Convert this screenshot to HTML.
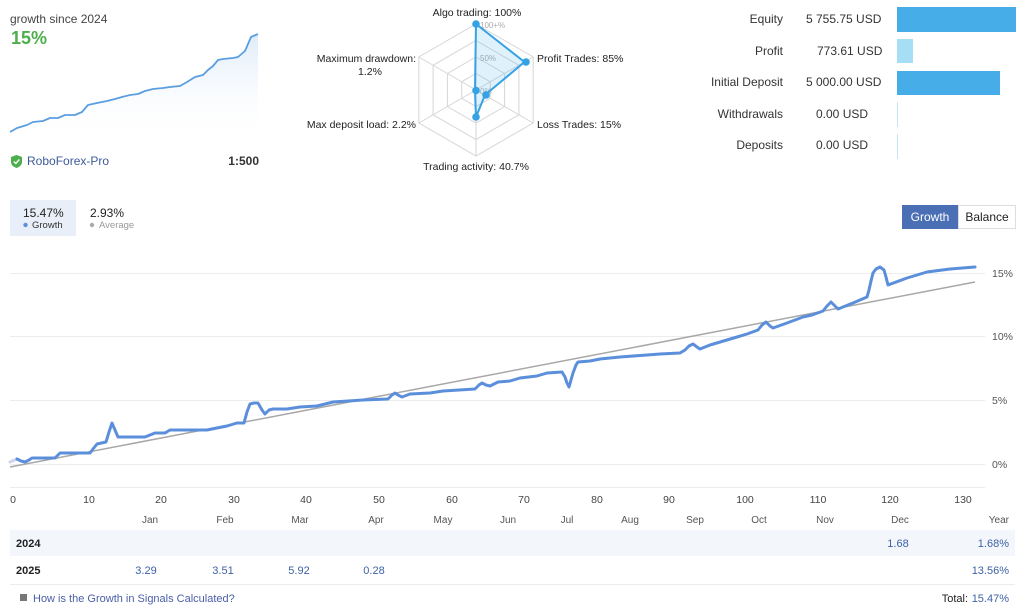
<!DOCTYPE html>
<html><head><meta charset="utf-8"><style>
html,body{margin:0;padding:0;background:#fff;}
svg{display:block;font-family:"Liberation Sans",sans-serif;}
</style></head><body>
<svg width="1024" height="614" viewBox="0 0 1024 614" xmlns="http://www.w3.org/2000/svg">
<defs>
<linearGradient id="mg" x1="0" y1="0" x2="0" y2="1">
<stop offset="0" stop-color="#dbe9f9" stop-opacity="0.9"/>
<stop offset="1" stop-color="#ffffff" stop-opacity="0"/>
</linearGradient>
</defs>
<!-- top-left -->
<text x="10" y="23" font-size="12" fill="#444">growth since 2024</text>
<text x="11" y="44" font-size="18" font-weight="bold" fill="#4cae4c">15%</text>
<path d="M10,132 L17,128 L27,125 L33,122 L43,121 L50,118 L58,118 L65,115 L75,115 L82,112 L88,105 L97,103 L107,101 L115,99 L122,97 L130,95 L138,94 L145,91 L153,89 L163,88 L170,87 L180,86 L187,82 L195,77 L203,75 L208,70 L213,66 L218,60 L223,59 L233,58 L238,57 L245,51 L251,37 L258,34 L258,140 L10,140 Z" fill="url(#mg)"/>
<polyline points="10,132 17,128 27,125 33,122 43,121 50,118 58,118 65,115 75,115 82,112 88,105 97,103 107,101 115,99 122,97 130,95 138,94 145,91 153,89 163,88 170,87 180,86 187,82 195,77 203,75 208,70 213,66 218,60 223,59 233,58 238,57 245,51 251,37 258,34" fill="none" stroke="#5b9ee0" stroke-width="1.8" stroke-linejoin="round"/>
<path d="M16.5,155 L22,157 L22,162 Q22,166 16.5,168 Q11,166 11,162 L11,157 Z" fill="#4cae4c"/>
<polyline points="13.8,161.5 15.8,163.5 19.3,159.5" fill="none" stroke="#fff" stroke-width="1.4"/>
<text x="27" y="165" font-size="12" fill="#3d5a9a">RoboForex-Pro</text>
<text x="259" y="165" font-size="12" font-weight="bold" fill="#333" text-anchor="end">1:500</text>

<!-- radar -->
<g fill="none" stroke="#d6d6d6" stroke-width="1">
<polygon points="476,24 533.2,57 533.2,123 476,156 418.8,123 418.8,57"/>
<polygon points="476,40.5 518.9,65.3 518.9,114.8 476,139.5 433.1,114.8 433.1,65.3"/>
<polygon points="476,57 504.6,73.5 504.6,106.5 476,123 447.4,106.5 447.4,73.5"/>
<polygon points="476,73.5 490.3,81.8 490.3,98.3 476,106.5 461.7,98.3 461.7,81.8"/>
<line x1="476" y1="90" x2="476" y2="24"/><line x1="476" y1="90" x2="533.2" y2="57"/>
<line x1="476" y1="90" x2="533.2" y2="123"/><line x1="476" y1="90" x2="476" y2="156"/>
<line x1="476" y1="90" x2="418.8" y2="123"/><line x1="476" y1="90" x2="418.8" y2="57"/>
</g>
<text x="480" y="28" font-size="8" fill="#aaa">100+%</text>
<text x="480" y="61" font-size="8" fill="#aaa">50%</text>
<text x="480" y="94" font-size="8" fill="#aaa">0%</text>
<polygon points="476,24 524.5,62 485,95 476,117 475,91 475,89" fill="#4bb0ea" fill-opacity="0.18" stroke="#36a2e6" stroke-width="2" stroke-linejoin="round"/>
<g fill="#36a2e6">
<circle cx="476" cy="24" r="3.8"/><circle cx="526" cy="62" r="3.8"/><circle cx="486" cy="95" r="3.8"/>
<circle cx="476" cy="117" r="3.8"/><circle cx="476" cy="90.5" r="3.8"/>
</g>
<g font-size="10.5" fill="#222">
<text x="477" y="16" text-anchor="middle">Algo trading: 100%</text>
<text x="537" y="62">Profit Trades: 85%</text>
<text x="537" y="128">Loss Trades: 15%</text>
<text x="476" y="170" text-anchor="middle">Trading activity: 40.7%</text>
<text x="416" y="128" text-anchor="end">Max deposit load: 2.2%</text>
<text x="416" y="62" text-anchor="end">Maximum drawdown:</text>
<text x="370" y="75" text-anchor="middle">1.2%</text>
</g>

<!-- top-right -->
<g font-size="12" fill="#333">
<text x="783" y="23" text-anchor="end">Equity</text>
<text x="806" y="23">5 755.75 USD</text>
<text x="783" y="55" text-anchor="end">Profit</text>
<text x="817" y="55">773.61 USD</text>
<text x="783" y="86" text-anchor="end">Initial Deposit</text>
<text x="806" y="86">5 000.00 USD</text>
<text x="783" y="118" text-anchor="end">Withdrawals</text>
<text x="816" y="118">0.00 USD</text>
<text x="783" y="149" text-anchor="end">Deposits</text>
<text x="816" y="149">0.00 USD</text>
</g>
<rect x="897" y="7" width="119" height="25" fill="#47ade9"/>
<rect x="897" y="39" width="16" height="24" fill="#a6def6"/>
<rect x="897" y="71" width="103" height="24" fill="#47ade9"/>
<rect x="897" y="102" width="1" height="25" fill="#c6e6f8"/>
<rect x="897" y="134" width="1" height="25" fill="#c6e6f8"/>

<!-- legend -->
<rect x="10" y="200" width="66" height="36" fill="#e9eff8"/>
<text x="23" y="217" font-size="12" fill="#222">15.47%</text>
<circle cx="25.5" cy="225" r="2.2" fill="#5b8fdb"/>
<text x="32" y="228" font-size="9.5" fill="#333">Growth</text>
<text x="90" y="217" font-size="12" fill="#222">2.93%</text>
<circle cx="92" cy="225" r="2.2" fill="#aaa"/>
<text x="99" y="228" font-size="9.5" fill="#999">Average</text>

<!-- buttons -->
<rect x="958.5" y="205.5" width="57" height="23" fill="#fff" stroke="#ddd"/>
<rect x="902" y="205" width="56" height="24" fill="#4a6fb5"/>
<text x="930" y="221" font-size="12" fill="#fff" text-anchor="middle">Growth</text>
<text x="987" y="221" font-size="12" fill="#222" text-anchor="middle">Balance</text>

<!-- main chart grid -->
<g stroke="#ececec" stroke-width="1">
<line x1="10" y1="273.5" x2="985" y2="273.5"/>
<line x1="10" y1="336.5" x2="985" y2="336.5"/>
<line x1="10" y1="400.5" x2="985" y2="400.5"/>
<line x1="10" y1="464.5" x2="985" y2="464.5"/>
<line x1="10" y1="487.5" x2="985" y2="487.5"/>
</g>
<g font-size="10.5" fill="#555">
<text x="992" y="277">15%</text>
<text x="992" y="340">10%</text>
<text x="992" y="404">5%</text>
<text x="992" y="468">0%</text>
</g>
<line x1="10" y1="467" x2="975" y2="282" stroke="#a8a8a8" stroke-width="1.5"/>
<line x1="10" y1="462" x2="17" y2="459" stroke="#cdd3f0" stroke-width="3" stroke-linecap="round"/>
<polyline fill="none" stroke="#5b8fdb" stroke-width="3" stroke-linejoin="round" stroke-linecap="round" points="17,459 21,461 25,462 29,460 32,458 55,458 58,455 60,453 90,453 93,449 97,444 106,442 109,432 112,423 115,430 118,437 145,437 150,435 155,433 165,433 170,430 207,430 227,426 237,423 244,423 247,412 250,404 254,403 258,403 262,410 265,414 269,410 273,409 287,409 300,407 317,406 333,402 363,400 388,399 392,395 395,393 398,395 402,397 410,394 430,393 443,391 475,389 479,385 482,383 486,385 490,386 498,382 510,381 520,378 537,376 547,373 562,372 565,377 567,383 569,387 571,380 573,373 576,365 578,362 590,361 600,359 620,357 647,355 660,354 680,353 685,350 689,346 693,344 697,347 700,349 710,345 737,337 747,334 758,330 762,325 766,322 770,326 773,328 787,323 803,317 812,315 823,311 827,306 831,302 835,306 838,309 853,303 867,297 869,290 871,281 873,273 876,269 880,267 884,270 886,277 888,285 907,278 927,272 950,269 975,267"/>

<!-- x axis labels -->
<g font-size="10.5" fill="#444" text-anchor="middle">
<text x="13" y="503">0</text><text x="89" y="503">10</text><text x="161" y="503">20</text>
<text x="234" y="503">30</text><text x="306" y="503">40</text><text x="379" y="503">50</text>
<text x="452" y="503">60</text><text x="524" y="503">70</text><text x="597" y="503">80</text>
<text x="669" y="503">90</text><text x="745" y="503">100</text><text x="818" y="503">110</text>
<text x="890" y="503">120</text><text x="963" y="503">130</text>
</g>
<g font-size="10" fill="#555" text-anchor="middle">
<text x="150" y="523">Jan</text><text x="225" y="523">Feb</text><text x="300" y="523">Mar</text>
<text x="376" y="523">Apr</text><text x="443" y="523">May</text><text x="508" y="523">Jun</text>
<text x="567" y="523">Jul</text><text x="630" y="523">Aug</text><text x="695" y="523">Sep</text>
<text x="759" y="523">Oct</text><text x="825" y="523">Nov</text><text x="900" y="523">Dec</text>
<text x="1009" y="523" text-anchor="end">Year</text>
</g>

<!-- table -->
<rect x="10" y="530" width="1005" height="26" fill="#f3f6fb"/>
<line x1="10" y1="584.5" x2="1015" y2="584.5" stroke="#ececec"/>
<text x="16" y="547" font-size="11" font-weight="bold" fill="#222">2024</text>
<text x="16" y="574" font-size="11" font-weight="bold" fill="#222">2025</text>
<g font-size="11" fill="#3d62a6">
<text x="898" y="547" text-anchor="middle">1.68</text>
<text x="1009" y="547" text-anchor="end">1.68%</text>
<text x="146" y="574" text-anchor="middle">3.29</text>
<text x="223" y="574" text-anchor="middle">3.51</text>
<text x="299" y="574" text-anchor="middle">5.92</text>
<text x="374" y="574" text-anchor="middle">0.28</text>
<text x="1009" y="574" text-anchor="end">13.56%</text>
</g>
<rect x="20" y="594" width="7" height="7" fill="#777"/>
<text x="33" y="602" font-size="11" fill="#4a5fa8">How is the Growth in Signals Calculated?</text>
<text x="1009" y="602" font-size="11" fill="#3d62a6" text-anchor="end">15.47%</text>
<text x="968" y="602" font-size="11" fill="#222" text-anchor="end">Total:</text>
</svg>
</body></html>
